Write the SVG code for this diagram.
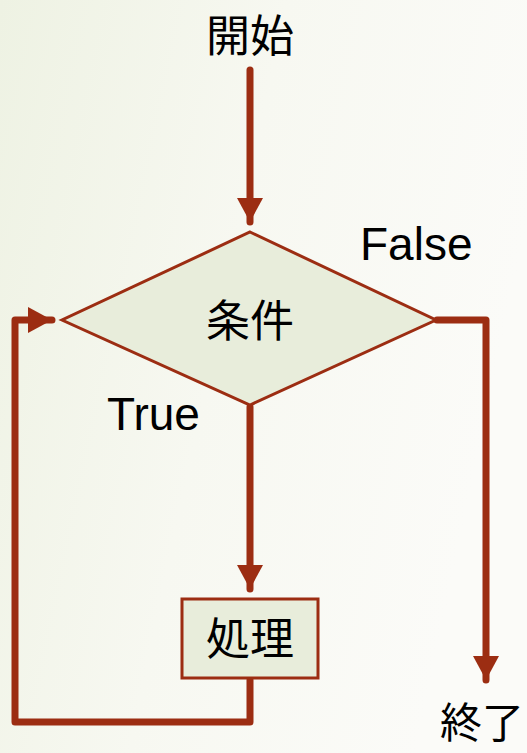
<svg xmlns="http://www.w3.org/2000/svg" width="527" height="753" viewBox="0 0 527 753">
  <defs>
    <linearGradient id="bg" x1="0" y1="0" x2="1" y2="0.3">
      <stop offset="0" stop-color="#eef2e3"/>
      <stop offset="0.5" stop-color="#f7f8f1"/>
      <stop offset="1" stop-color="#fbfbf8"/>
    </linearGradient>
    <marker id="arrow" markerUnits="userSpaceOnUse" markerWidth="26" markerHeight="26" viewBox="0 0 24 26" refX="24" refY="13" orient="auto">
      <path d="M0,0 L24,13 L0,26 Z" fill="#9c2d12"/>
    </marker>
    <style>
      .shape { fill: #e8eddb; stroke: #9c2d12; stroke-width: 3; }
      .conn { fill: none; stroke: #9c2d12; stroke-width: 7; stroke-linejoin: round; stroke-linecap: round; }
      .jp { font-family: "Noto Sans CJK JP", "Noto Sans CJK SC", sans-serif; font-size: 44px; fill: #000; text-anchor: middle; }
      .en { font-family: "Liberation Sans", Arial, sans-serif; font-size: 46px; fill: #000; }
    </style>
  </defs>
  <rect x="0" y="0" width="527" height="753" fill="url(#bg)"/>

  <g id="connectors">
    <path class="conn" d="M250,70 L250,222" marker-end="url(#arrow)"/>
    <path class="conn" d="M250,407 L250,589" marker-end="url(#arrow)"/>
    <path class="conn" d="M250,680 L250,722 L15,722 L15,320 L52,320" marker-end="url(#arrow)"/>
    <path class="conn" d="M437,320 L486,320 L486,680" marker-end="url(#arrow)"/>
  </g>

  <g id="start">
    <text class="jp" x="250" y="52">開始</text>
  </g>

  <g id="condition">
    <polygon class="shape" points="250,232 436,320 250,405 62,320"/>
    <text class="jp" x="250" y="337">条件</text>
  </g>

  <g id="label-false">
    <text class="en" x="360" y="260">False</text>
  </g>

  <g id="label-true">
    <text class="en" x="107" y="430">True</text>
  </g>

  <g id="process">
    <rect class="shape" x="182" y="599" width="136" height="79"/>
    <text class="jp" x="250" y="655">処理</text>
  </g>

  <g id="end">
    <text class="jp" x="524" y="738" style="font-size:42px;text-anchor:end">終了</text>
  </g>
</svg>
